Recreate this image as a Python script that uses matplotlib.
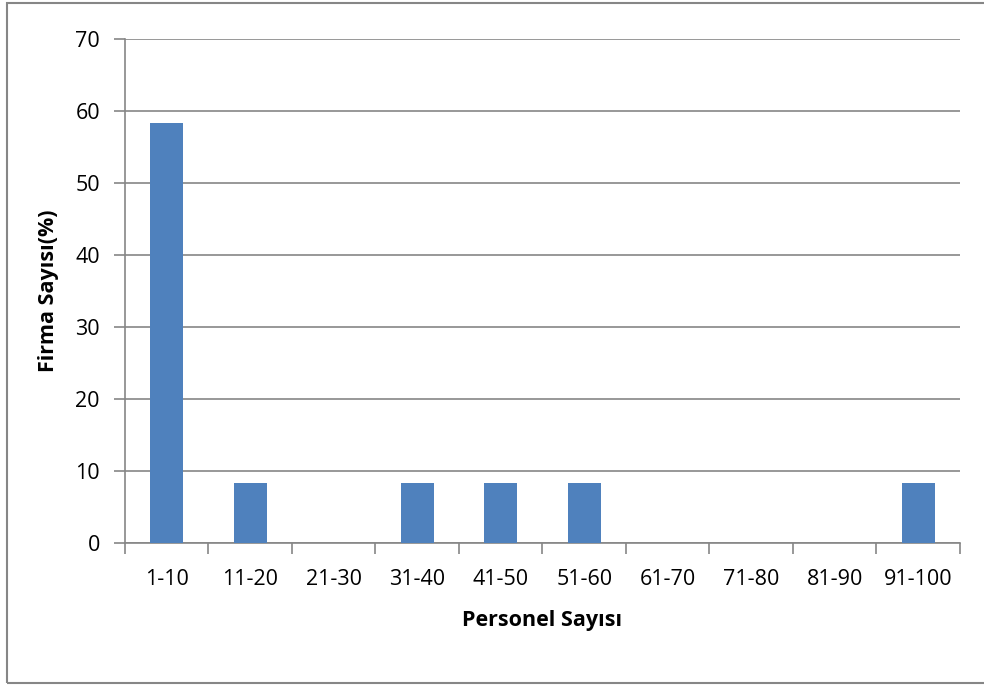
import matplotlib.pyplot as plt
from matplotlib.patches import Rectangle

# personel gruplari ve firma yuzdeleri
gruplar = ['1-10', '11-20', '21-30', '31-40', '41-50', '51-60',
           '61-70', '71-80', '81-90', '91-100']
firma_yuzde = [58.33, 8.33, 0, 8.33, 8.33, 8.33, 0, 0, 0, 8.33]
y_ticks = [0, 10, 20, 30, 40, 50, 60, 70]

plt.rcParams['font.family'] = ['Open Sans', 'DejaVu Sans']
gri = '#868686'

fig = plt.figure(figsize=(9.84, 6.86), dpi=100)
ax = fig.add_axes([0.127, 0.2085, 0.8486, 0.7346])

x = range(len(gruplar))
ax.bar(x, firma_yuzde, width=0.4, color='#4F81BD', zorder=3)

ax.set_xlim(-0.5, len(gruplar) - 0.5)
ax.set_ylim(0, 70)
ax.set_yticks(y_ticks)
ax.yaxis.grid(True, color=gri, linewidth=1.2, zorder=0)

# x ekseni tikleri kategori sinirlarinda
ax.set_xticks([i - 0.5 for i in range(len(gruplar) + 1)])
ax.set_xticklabels([])
ax.set_xticks(list(x), minor=True)
ax.set_xticklabels(gruplar, minor=True, fontsize=15.5)
ax.tick_params(axis='x', which='major', length=8, width=1.2, color=gri)
ax.tick_params(axis='x', which='minor', length=0, pad=19)
ax.tick_params(axis='y', length=8, width=1.2, color=gri, labelsize=15.5, pad=10)

for s in ['top', 'right']:
    ax.spines[s].set_visible(False)
for s in ['left', 'bottom']:
    ax.spines[s].set_color(gri)
    ax.spines[s].set_linewidth(1.2)

ax.set_xlabel('Personel Sayısı', fontsize=15.5, fontweight='bold', labelpad=14)
ax.set_ylabel('Firma Sayısı(%)', fontsize=15.5, fontweight='bold', labelpad=12)

# grafik cercevesi
fig.patches.append(Rectangle((7 / 984, 3 / 686), 1.0, 680 / 686,
                             transform=fig.transFigure, fill=False,
                             edgecolor=gri, linewidth=1.5))

fig.savefig('out.png', dpi=100)
